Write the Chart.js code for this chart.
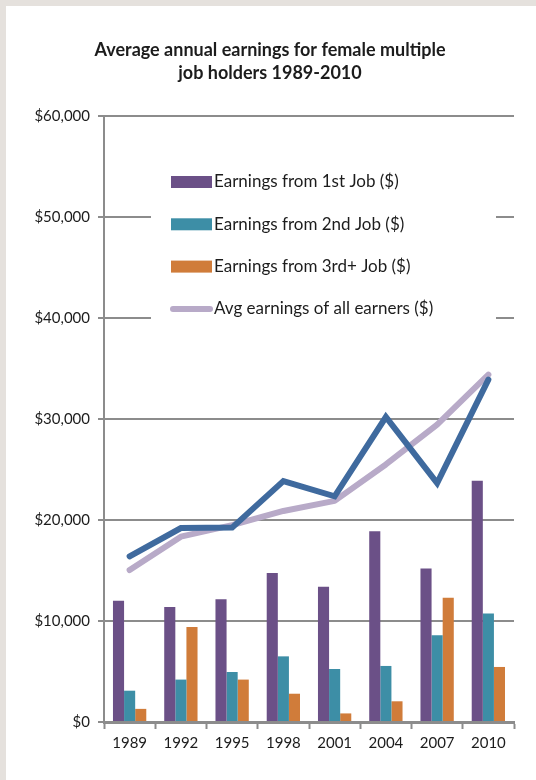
<!DOCTYPE html>
<html>
<head>
<meta charset="utf-8">
<script src="https://cdn.jsdelivr.net/npm/chart.js@4"></script>
<style>
  html, body { margin: 0; padding: 0; background: #e5e1dd; }
  #wrap { position: absolute; left: 6px; top: 6px; width: 530px; height: 774px; background: #fff; }
</style>
</head>
<body>
<div id="wrap"><canvas id="myChart"></canvas></div>
<script>
const years = ['1989', '1992', '1995', '1998', '2001', '2004', '2007', '2010']
const firstJob = [12000, 11400, 12150, 14750, 13400, 18900, 15200, 23900]
const secondJob = [3100, 4200, 4950, 6500, 5250, 5550, 8600, 10750]
const thirdJob = [1300, 9400, 4200, 2800, 850, 2050, 12300, 5450]
const avgAll = [15050, 18350, 19500, 20900, 21900, 25500, 29450, 34400]
const avgMulti = [16400, 19200, 19250, 23850, 22350, 30200, 23650, 33900]
const yTicks = [0, 10000, 20000, 30000, 40000, 50000, 60000]

const gridColor = '#8c8c8c'
const textColor = '#1c1c1c'
const fontFamily = 'Lato, "Liberation Sans", sans-serif'

const data = {
  labels: years,
  datasets: [{
    type: 'line',
    label: 'Avg earnings of multiple job holders ($)',
    inLegend: false,
    data: avgMulti,
    borderColor: '#3f6a9e',
    borderWidth: 6,
    borderJoinStyle: 'miter',
    borderCapStyle: 'round',
    pointRadius: 0,
    tension: 0,
    order: 0
  }, {
    type: 'line',
    label: 'Avg earnings of all earners ($)',
    data: avgAll,
    borderColor: '#b8aac8',
    borderWidth: 6,
    borderJoinStyle: 'round',
    borderCapStyle: 'round',
    pointRadius: 0,
    tension: 0,
    order: 1
  }, {
    label: 'Earnings from 1st Job ($)',
    data: firstJob,
    backgroundColor: '#6b5087',
    order: 2
  }, {
    label: 'Earnings from 2nd Job ($)',
    data: secondJob,
    backgroundColor: '#3d8ea6',
    order: 2
  }, {
    label: 'Earnings from 3rd+ Job ($)',
    data: thirdJob,
    backgroundColor: '#d07c3a',
    order: 2
  }]
}

// legend drawn inside the plot, on a white box that hides the gridlines
const insideLegend = {
  id: 'insideLegend',
  afterDatasetsDraw(chart) {
    const ctx = chart.ctx
    ctx.save()
    ctx.fillStyle = '#ffffff'
    ctx.fillRect(145, 140, 345, 195)
    const bars = chart.data.datasets.filter(d => d.type !== 'line')
    const lines = chart.data.datasets.filter(d => d.type === 'line' && d.inLegend !== false)
    const items = bars.concat(lines)
    ctx.font = '17px ' + fontFamily
    ctx.textBaseline = 'middle'
    items.forEach((d, i) => {
      const y = 176 + i * 42.3
      if (d.type === 'line') {
        ctx.strokeStyle = d.borderColor
        ctx.lineWidth = 6
        ctx.lineCap = 'round'
        ctx.beginPath()
        ctx.moveTo(167, y)
        ctx.lineTo(204, y)
        ctx.stroke()
      } else {
        ctx.fillStyle = d.backgroundColor
        ctx.fillRect(165, y - 6, 41, 12)
      }
      ctx.fillStyle = textColor
      ctx.fillText(d.label, 208, y)
    })
    ctx.restore()
  }
}

const config = {
  type: 'bar',
  data,
  options: {
    responsive: true,
    maintainAspectRatio: false,
    animation: false,
    datasets: {
      bar: { categoryPercentage: 0.65, barPercentage: 1.0 }
    },
    layout: { padding: { top: 0, right: 22, bottom: 0, left: 20 } },
    plugins: {
      legend: { display: false },
      tooltip: { enabled: false },
      title: {
        display: true,
        text: ['Average annual earnings for female multiple', 'job holders 1989-2010'],
        color: textColor,
        font: { family: fontFamily, size: 18, weight: 'bold', lineHeight: 1.28 },
        padding: { top: 33, bottom: 31 }
      }
    },
    scales: {
      x: {
        grid: {
          offset: true,
          drawOnChartArea: false,
          drawTicks: true,
          tickLength: 7,
          tickWidth: 2,
          tickColor: gridColor
        },
        border: { color: gridColor, width: 3 },
        ticks: {
          color: textColor,
          padding: 5,
          font: { family: fontFamily, size: 15 }
        },
        afterFit(scale) { scale.height = 58 }
      },
      y: {
        min: 0,
        max: 60000,
        afterBuildTicks(scale) { scale.ticks = yTicks.map(v => ({ value: v })) },
        grid: {
          color: gridColor,
          lineWidth: 2,
          tickLength: 6,
          tickColor: gridColor
        },
        border: { color: gridColor, width: 2 },
        ticks: {
          color: textColor,
          padding: 8,
          font: { family: fontFamily, size: 15 },
          callback: v => '$' + Number(v).toLocaleString('en-US')
        },
        afterFit(scale) { scale.width = 78 }
      }
    }
  },
  plugins: [insideLegend]
}

const myChart = new Chart(document.querySelector('#myChart'), config)
</script>
</body>
</html>
